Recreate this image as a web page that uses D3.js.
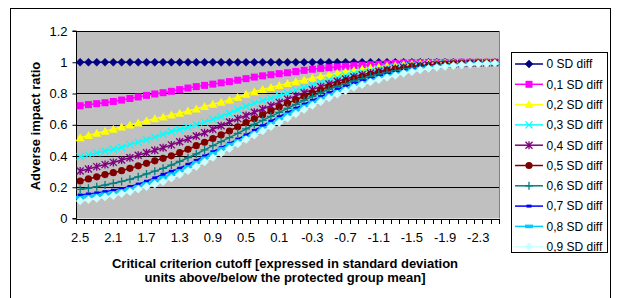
<!DOCTYPE html>
<html><head><meta charset="utf-8">
<script src="https://cdn.jsdelivr.net/npm/d3@7"></script>
<style>body{margin:0;background:#fff}svg{display:block}text{font-family:"Liberation Sans",Arial,sans-serif}</style>
</head><body>
<svg id="c" width="621" height="298"></svg>
<script>
const categories = [2.5,2.4,2.3,2.2,2.1,2.0,1.9,1.8,1.7,1.6,1.5,1.4,1.3,1.2,1.1,1.0,0.9,0.8,0.7,0.6,0.5,0.4,0.3,0.2,0.1,0.0,-0.1,-0.2,-0.3,-0.4,-0.5,-0.6,-0.7,-0.8,-0.9,-1.0,-1.1,-1.2,-1.3,-1.4,-1.5,-1.6,-1.7,-1.8,-1.9,-2.0,-2.1,-2.2,-2.3,-2.4,-2.5];
const xTickLabels = ["2.5","2.1","1.7","1.3","0.9","0.5","0.1","-0.3","-0.7","-1.1","-1.5","-1.9","-2.3"];
const yTickValues = [0,0.2,0.4,0.6,0.8,1,1.2];
const yTickLabels = ["0","0.2","0.4","0.6","0.8","1","1.2"];
const seriesNames = ["0 SD diff","0,1 SD diff","0,2 SD diff","0,3 SD diff","0,4 SD diff","0,5 SD diff","0,6 SD diff","0,7 SD diff","0,8 SD diff","0,9 SD diff"];
const sd0 = [1,1,1,1,1,1,1,1,1,1,1,1,1,1,1,1,1,1,1,1,1,1,1,1,1,1,1,1,1,1,1,1,1,1,1,1,1,1,1,1,1,1,1,1,1,1,1,1,1,1,1];
const sd1 = [0.722,0.729,0.735,0.741,0.749,0.758,0.768,0.778,0.788,0.797,
0.805,0.814,0.825,0.835,0.844,0.852,0.860,0.868,0.876,0.885,
0.895,0.905,0.913,0.920,0.927,0.933,0.941,0.948,0.955,0.961,
0.965,0.970,0.974,0.978,0.981,0.984,0.987,0.990,0.993,0.995,0.997,
0.998,0.998,0.999,0.999,0.999,1.0,1.0,1.0,1.0,1.0];
const sd2 = [0.517,0.532,0.545,0.559,0.571,0.585,0.598,0.611,0.625,0.638,
0.650,0.662,0.674,0.688,0.701,0.717,0.731,0.744,0.759,0.776,
0.795,0.811,0.826,0.839,0.852,0.864,0.876,0.887,0.898,0.909,
0.919,0.929,0.939,0.948,0.955,0.963,0.970,0.976,0.980,0.984,0.988,
0.991,0.993,0.994,0.995,0.996,0.997,0.998,0.998,0.999,0.999];
const sd3 = [0.396,0.407,0.420,0.432,0.443,0.456,0.473,0.488,0.504,0.521,
0.539,0.555,0.569,0.584,0.600,0.617,0.635,0.653,0.674,0.697,
0.718,0.737,0.754,0.770,0.786,0.803,0.820,0.837,0.854,0.870,
0.886,0.900,0.913,0.926,0.937,0.946,0.955,0.963,0.970,0.976,0.981,
0.985,0.988,0.990,0.992,0.994,0.995,0.996,0.997,0.998,0.998];
const sd4 = [0.304,0.317,0.332,0.345,0.359,0.374,0.389,0.405,0.421,0.437,
0.453,0.471,0.491,0.509,0.528,0.549,0.571,0.594,0.618,0.639,
0.659,0.680,0.701,0.722,0.743,0.764,0.785,0.805,0.825,0.844,
0.861,0.878,0.893,0.907,0.920,0.931,0.942,0.952,0.960,0.967,0.974,
0.978,0.982,0.985,0.988,0.990,0.992,0.994,0.995,0.996,0.997];
const sd5 = [0.240,0.253,0.267,0.281,0.293,0.306,0.321,0.337,0.353,0.369,
0.385,0.401,0.421,0.443,0.466,0.488,0.512,0.535,0.560,0.587,
0.614,0.638,0.663,0.688,0.713,0.737,0.760,0.782,0.803,0.824,
0.844,0.861,0.878,0.893,0.908,0.922,0.935,0.946,0.955,0.963,0.970,
0.975,0.979,0.983,0.986,0.989,0.991,0.993,0.994,0.995,0.996];
const sd6 = [0.187,0.194,0.204,0.214,0.225,0.237,0.251,0.267,0.285,0.303,
0.321,0.342,0.365,0.389,0.413,0.439,0.466,0.492,0.518,0.545,
0.573,0.602,0.628,0.654,0.679,0.705,0.731,0.756,0.780,0.804,
0.827,0.846,0.863,0.880,0.895,0.910,0.923,0.935,0.946,0.955,0.963,
0.969,0.974,0.979,0.983,0.986,0.989,0.991,0.993,0.994,0.995];
const sd7 = [0.150,0.157,0.164,0.172,0.181,0.192,0.205,0.220,0.238,0.260,
0.283,0.302,0.322,0.347,0.372,0.400,0.427,0.453,0.481,0.508,
0.535,0.564,0.594,0.623,0.651,0.679,0.705,0.731,0.756,0.780,
0.805,0.827,0.846,0.863,0.880,0.895,0.910,0.923,0.935,0.946,0.955,
0.963,0.970,0.975,0.980,0.984,0.987,0.989,0.991,0.993,0.994];
const sd8 = [0.133,0.140,0.147,0.155,0.164,0.176,0.189,0.204,0.221,0.240,
0.261,0.283,0.305,0.330,0.357,0.385,0.415,0.445,0.473,0.496,
0.518,0.547,0.577,0.607,0.637,0.666,0.692,0.718,0.743,0.767,
0.790,0.812,0.831,0.850,0.867,0.884,0.899,0.912,0.925,0.937,0.948,
0.958,0.966,0.972,0.977,0.981,0.985,0.988,0.990,0.992,0.994];
const sd9 = [0.112,0.120,0.128,0.137,0.146,0.159,0.172,0.188,0.204,0.219,
0.236,0.258,0.281,0.306,0.333,0.362,0.390,0.418,0.447,0.477,
0.505,0.533,0.560,0.587,0.614,0.641,0.669,0.697,0.724,0.748,
0.772,0.795,0.818,0.839,0.856,0.874,0.888,0.903,0.916,0.929,0.940,
0.951,0.960,0.967,0.973,0.978,0.982,0.986,0.989,0.991,0.993];
const seriesValues = [sd0,sd1,sd2,sd3,sd4,sd5,sd6,sd7,sd8,sd9];

const colors = ["#000080","#FF00FF","#FFFF00","#00FFFF","#800080","#800000","#008080","#0000FF","#00CCFF","#CCFFFF"];
const markers = ["diamond","square","triangle","x","star","circle","plus","dash","dash2","diamond"];

const svg = d3.select("#c");
const L=76, R=499, T=31, B=218.5;
const x = d3.scaleBand().domain(categories).range([L,R]).padding(0);
const y = d3.scaleLinear().domain([0,1.2]).range([B,T]);
const cx = c => x(c) + x.bandwidth()/2;

// outer chart border
svg.append("rect").attr("x",10.5).attr("y",8.5).attr("width",600).attr("height",300)
  .attr("fill","#fff").attr("stroke","#000").attr("stroke-width",1);

// plot area
svg.append("rect").attr("x",L).attr("y",T).attr("width",R-L).attr("height",B-T).attr("fill","#C0C0C0");
svg.append("g").selectAll("line").data(yTickValues.filter(v=>v>0)).join("line")
  .attr("x1",L).attr("x2",R).attr("y1",d=>Math.round(y(d))+0.5).attr("y2",d=>Math.round(y(d))+0.5)
  .attr("stroke","#000").attr("stroke-width",1);
svg.append("line").attr("x1",R+0.5).attr("x2",R+0.5).attr("y1",T).attr("y2",B).attr("stroke","#808080");

// y axis
const yAxis = d3.axisLeft(y).tickValues(yTickValues).tickSize(4).tickPadding(5)
  .tickFormat((d,i)=>yTickLabels[i]);
const gy = svg.append("g").attr("transform",`translate(${L+0.5},0)`).call(yAxis);
gy.selectAll("text").attr("font-size",13).attr("font-family","Liberation Sans, Arial").attr("fill","#000");
gy.selectAll("line,path").attr("stroke","#000");
gy.select(".domain").attr("d",`M-4,${y(1.2)}H0V${y(0)}H-4`);

// x axis
const gx = svg.append("g");
gx.append("line").attr("x1",L).attr("x2",R).attr("y1",Math.round(B)+0.5).attr("y2",Math.round(B)+0.5).attr("stroke","#000");
const bounds = categories.map(c=>x(c)).concat([R]);
gx.selectAll("line.t").data(bounds).join("line").attr("class","t")
  .attr("x1",d=>Math.round(d)+0.5).attr("x2",d=>Math.round(d)+0.5)
  .attr("y1",Math.round(B)).attr("y2",Math.round(B)+5).attr("stroke","#000");
gx.selectAll("text").data(xTickLabels).join("text")
  .attr("x",d=>cx(categories.find(c=>c.toFixed(1)===d || String(c)===d)))
  .attr("y",241.5).attr("text-anchor","middle").attr("font-size",13).text(d=>d);

// axis titles
svg.append("text").attr("transform","translate(39.5,126) rotate(-90)").attr("text-anchor","middle")
  .attr("font-size",13).attr("font-weight","bold").text("Adverse impact ratio");
svg.append("text").attr("x",285).attr("y",267.5).attr("text-anchor","middle").attr("font-size",13).attr("font-weight","bold")
  .text("Critical criterion cutoff [expressed in standard deviation");
svg.append("text").attr("x",285).attr("y",282).attr("text-anchor","middle").attr("font-size",13).attr("font-weight","bold")
  .text("units above/below the protected group mean]");

function drawMarker(g, type, color, px, py) {
  const s = 3.5;
  if (type==="diamond") {
    g.append("path").attr("d",`M${px},${py-4}L${px+4},${py}L${px},${py+4}L${px-4},${py}Z`).attr("fill",color).attr("stroke",color).attr("stroke-width",0.5);
  } else if (type==="square") {
    g.append("rect").attr("x",px-3.5).attr("y",py-3.5).attr("width",7).attr("height",7).attr("fill",color);
  } else if (type==="triangle") {
    g.append("path").attr("d",`M${px},${py-4.5}L${px+4.5},${py+3.5}L${px-4.5},${py+3.5}Z`).attr("fill",color);
  } else if (type==="x") {
    g.append("path").attr("d",`M${px-s},${py-s}L${px+s},${py+s}M${px-s},${py+s}L${px+s},${py-s}`).attr("stroke",color).attr("stroke-width",1.3).attr("fill","none");
  } else if (type==="star") {
    g.append("path").attr("d",`M${px-s},${py-s}L${px+s},${py+s}M${px-s},${py+s}L${px+s},${py-s}M${px},${py-4}L${px},${py+4}`).attr("stroke",color).attr("stroke-width",1.3).attr("fill","none");
  } else if (type==="circle") {
    g.append("circle").attr("cx",px).attr("cy",py).attr("r",3.6).attr("fill",color);
  } else if (type==="plus") {
    g.append("path").attr("d",`M${px-4},${py}L${px+4},${py}M${px},${py-4}L${px},${py+4}`).attr("stroke",color).attr("stroke-width",1.3).attr("fill","none");
  } else if (type==="dash") {
    g.append("rect").attr("x",px-2.5).attr("y",py-1.5).attr("width",5).attr("height",3).attr("fill",color);
  } else if (type==="dash2") {
    g.append("rect").attr("x",px-4).attr("y",py-1.8).attr("width",8).attr("height",3.6).attr("fill",color);
  }
}

const line = d3.line().x((d,i)=>cx(categories[i])).y(d=>y(d));
const plotG = svg.append("g");
seriesValues.forEach((vals,si)=>{
  const g = plotG.append("g");
  g.append("path").attr("d",line(vals)).attr("fill","none").attr("stroke",colors[si]).attr("stroke-width",1.5);
  vals.forEach((v,i)=>drawMarker(g, markers[si], colors[si], cx(categories[i]), y(v)));
});

// legend
const lg = svg.append("g");
lg.append("rect").attr("x",511.5).attr("y",52.5).attr("width",96).attr("height",200).attr("fill","#fff").attr("stroke","#000");
seriesNames.forEach((n,i)=>{
  const ly = 64 + i*20.3;
  lg.append("line").attr("x1",515).attr("x2",543).attr("y1",ly).attr("y2",ly).attr("stroke",colors[i]).attr("stroke-width",1.5);
  drawMarker(lg, markers[i], colors[i], 529, ly);
  lg.append("text").attr("x",546.5).attr("y",ly+4.3).attr("font-size",12).text(n);
});
</script>
</body></html>
